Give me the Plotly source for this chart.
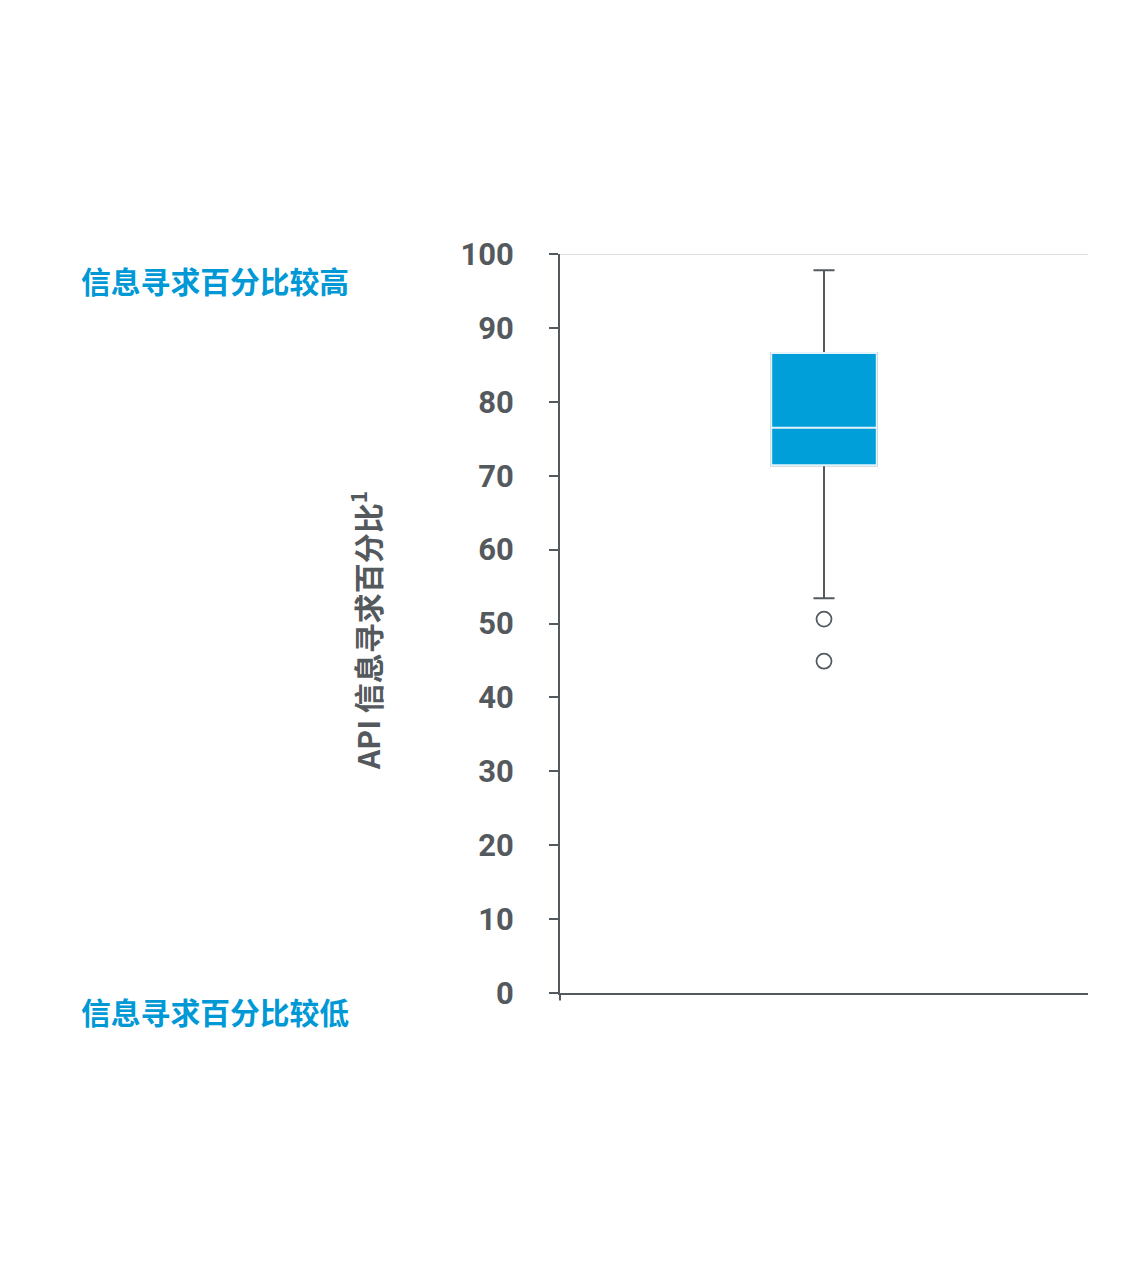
import plotly.graph_objects as go

# box statistics (percent)
categorie = ["API"]
q1 = [71.4]
mediane = [76.5]
q3 = [86.6]
moustache_basse = [53.4]
moustache_haute = [97.8]

# points isolés
outliers_x = ["API", "API"]
outliers_y = [50.6, 44.9]

tick_vals = [0, 10, 20, 30, 40, 50, 60, 70, 80, 90, 100]

BLEU = "#009FDA"
GRIS = "#54595e"

fig = go.Figure()

# box with dark whiskers
fig.add_trace(go.Box(
    x=categorie, q1=q1, median=mediane, q3=q3,
    lowerfence=moustache_basse, upperfence=moustache_haute,
    fillcolor=BLEU, line=dict(color=GRIS, width=2),
    width=0.2, whiskerwidth=0.2, boxpoints=False,
    hoverinfo="skip", showlegend=False,
))
# same box on top, light outline + white median
fig.add_trace(go.Box(
    x=categorie, q1=q1, median=mediane, q3=q3,
    lowerfence=q1, upperfence=q3,
    fillcolor=BLEU, line=dict(color="#e3f4fb", width=2),
    width=0.2, whiskerwidth=0.2, boxpoints=False,
    hoverinfo="skip", showlegend=False,
))
fig.add_trace(go.Scatter(
    x=outliers_x, y=outliers_y, mode="markers",
    marker=dict(symbol="circle-open", size=15, color=GRIS, line=dict(width=1.8)),
    hoverinfo="skip", showlegend=False,
))

# ligne grise claire à 100
fig.add_shape(type="line", xref="paper", yref="y", x0=0, x1=1, y0=100, y1=100,
              line=dict(color="#d3d3d3", width=1.5), layer="below")
# petit dépassement de l'axe vertical sous 0
fig.add_shape(type="line", xref="paper", yref="paper", x0=0, x1=0, y0=0, y1=-0.01,
              line=dict(color=GRIS, width=2))

fig.add_annotation(
    text="API 信息寻求百分比<sup>1</sup>", textangle=-90,
    xref="paper", yref="paper", x=-0.367, y=0.49, xanchor="center", yanchor="middle",
    showarrow=False,
    font=dict(family="Noto Sans CJK SC", size=30, color=GRIS, weight=600),
)
fig.add_annotation(
    text="<b>信息寻求百分比较高</b>", xref="paper", yref="paper",
    x=-0.911, y=0.965, xanchor="left", yanchor="middle", showarrow=False,
    font=dict(family="Noto Sans CJK SC", size=29.8, color="#0099D6"),
)
fig.add_annotation(
    text="<b>信息寻求百分比较低</b>", xref="paper", yref="paper",
    x=-0.911, y=-0.025, xanchor="left", yanchor="middle", showarrow=False,
    font=dict(family="Noto Sans CJK SC", size=29.8, color="#0099D6"),
)

fig.update_layout(
    width=1141, height=1267,
    margin=dict(l=552, r=61, t=246, b=282),
    paper_bgcolor="white", plot_bgcolor="white",
    xaxis=dict(range=[-0.5, 0.5], showticklabels=False, showgrid=False,
               zeroline=False, showline=True, linecolor=GRIS, linewidth=2,
               ticks=""),
    yaxis=dict(range=[0, 100], tickvals=tick_vals, showgrid=False,
               zeroline=False, showline=True, linecolor=GRIS, linewidth=2,
               ticks="outside", ticklen=9, tickwidth=2, tickcolor=GRIS,
               ticklabelstandoff=29,
               tickfont=dict(family="Roboto", size=31, color=GRIS, weight="bold")),
)

fig.write_html("out.html")
